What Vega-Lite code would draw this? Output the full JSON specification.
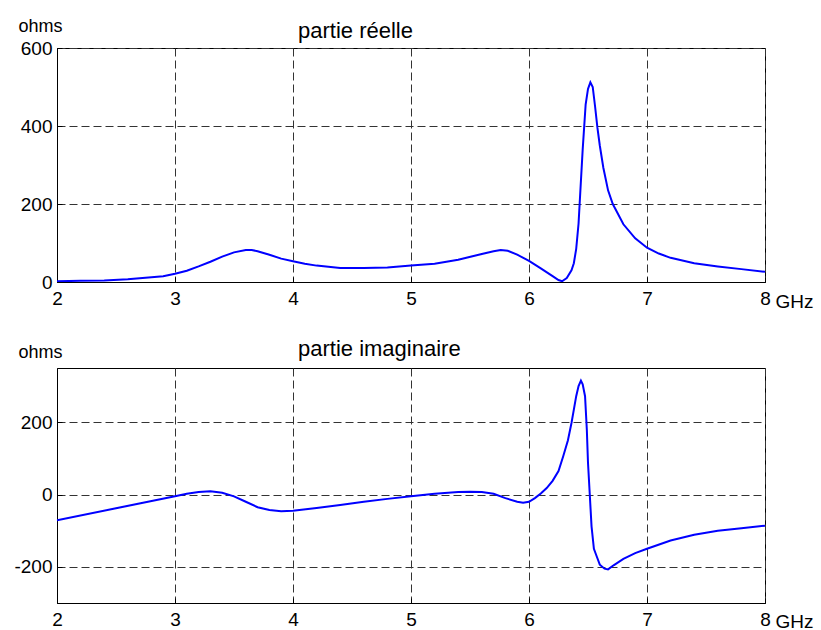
{
  "$schema": "https://vega.github.io/schema/vega-lite/v6.json",
  "background": "white",
  "padding": {"left": 13, "top": 16, "right": 0, "bottom": 0},
  "config": {
    "font": "Liberation Sans",
    "view": {"stroke": "black", "strokeWidth": 1},
    "concat": {"spacing": 86},
    "axis": {
      "grid": true,
      "gridDash": [8, 4],
      "gridColor": "#333333",
      "gridOpacity": 1,
      "gridWidth": 1,
      "domainColor": "black",
      "domainWidth": 1,
      "labelFontSize": 19,
      "labelColor": "black",
      "labelFont": "Liberation Sans",
      "ticks": true,
      "tickSize": -5,
      "tickColor": "black",
      "titleFont": "Liberation Sans",
      "titleFontSize": 18,
      "titleFontWeight": "normal",
      "titleColor": "black"
    },
    "title": {"font": "Liberation Sans", "fontSize": 22, "fontWeight": "normal", "color": "black", "anchor": "start", "frame": "group"}
  },
  "datasets": {
    "re": [
      {"f": 2.0, "v": 2}, {"f": 2.2, "v": 3}, {"f": 2.4, "v": 4}, {"f": 2.6, "v": 7}, {"f": 2.8, "v": 12},
      {"f": 2.9, "v": 15}, {"f": 3.0, "v": 21}, {"f": 3.1, "v": 29}, {"f": 3.2, "v": 40}, {"f": 3.3, "v": 52},
      {"f": 3.4, "v": 65}, {"f": 3.5, "v": 76}, {"f": 3.6, "v": 82}, {"f": 3.65, "v": 82}, {"f": 3.7, "v": 79},
      {"f": 3.8, "v": 70}, {"f": 3.9, "v": 60}, {"f": 4.0, "v": 53}, {"f": 4.1, "v": 47}, {"f": 4.2, "v": 42},
      {"f": 4.3, "v": 39}, {"f": 4.4, "v": 36}, {"f": 4.6, "v": 36}, {"f": 4.8, "v": 37}, {"f": 5.0, "v": 42},
      {"f": 5.2, "v": 47}, {"f": 5.4, "v": 57}, {"f": 5.6, "v": 72}, {"f": 5.7, "v": 79}, {"f": 5.76, "v": 82},
      {"f": 5.82, "v": 80}, {"f": 5.9, "v": 70}, {"f": 6.0, "v": 54}, {"f": 6.1, "v": 35}, {"f": 6.2, "v": 15},
      {"f": 6.25, "v": 5}, {"f": 6.28, "v": 2}, {"f": 6.32, "v": 10}, {"f": 6.36, "v": 30}, {"f": 6.38, "v": 48},
      {"f": 6.4, "v": 85}, {"f": 6.42, "v": 150}, {"f": 6.43, "v": 205}, {"f": 6.455, "v": 340}, {"f": 6.48, "v": 455},
      {"f": 6.5, "v": 495}, {"f": 6.52, "v": 512}, {"f": 6.54, "v": 500}, {"f": 6.56, "v": 450}, {"f": 6.58, "v": 395},
      {"f": 6.6, "v": 350}, {"f": 6.63, "v": 293}, {"f": 6.67, "v": 235}, {"f": 6.71, "v": 200}, {"f": 6.8, "v": 148},
      {"f": 6.9, "v": 112}, {"f": 7.0, "v": 88}, {"f": 7.1, "v": 73}, {"f": 7.2, "v": 62}, {"f": 7.4, "v": 48},
      {"f": 7.6, "v": 40}, {"f": 7.8, "v": 33}, {"f": 8.0, "v": 26}
    ],
    "im": [
      {"f": 2.0, "v": -71}, {"f": 2.5, "v": -38}, {"f": 3.0, "v": -5}, {"f": 3.1, "v": 2}, {"f": 3.2, "v": 7},
      {"f": 3.3, "v": 9}, {"f": 3.4, "v": 5}, {"f": 3.5, "v": -5}, {"f": 3.6, "v": -20}, {"f": 3.7, "v": -35},
      {"f": 3.8, "v": -43}, {"f": 3.9, "v": -46}, {"f": 4.0, "v": -45}, {"f": 4.2, "v": -37}, {"f": 4.4, "v": -29},
      {"f": 4.6, "v": -20}, {"f": 4.8, "v": -12}, {"f": 5.0, "v": -5}, {"f": 5.2, "v": 2}, {"f": 5.4, "v": 7},
      {"f": 5.5, "v": 8}, {"f": 5.6, "v": 7}, {"f": 5.7, "v": 2}, {"f": 5.8, "v": -10}, {"f": 5.9, "v": -20},
      {"f": 5.95, "v": -23}, {"f": 6.0, "v": -20}, {"f": 6.05, "v": -10}, {"f": 6.1, "v": 3}, {"f": 6.15, "v": 18},
      {"f": 6.2, "v": 38}, {"f": 6.25, "v": 65}, {"f": 6.29, "v": 106}, {"f": 6.33, "v": 150}, {"f": 6.36, "v": 198},
      {"f": 6.38, "v": 235}, {"f": 6.4, "v": 272}, {"f": 6.42, "v": 300}, {"f": 6.44, "v": 315}, {"f": 6.455, "v": 305},
      {"f": 6.475, "v": 272}, {"f": 6.49, "v": 180}, {"f": 6.5, "v": 88}, {"f": 6.515, "v": 0}, {"f": 6.53, "v": -88},
      {"f": 6.55, "v": -150}, {"f": 6.575, "v": -172}, {"f": 6.6, "v": -194}, {"f": 6.64, "v": -205}, {"f": 6.67, "v": -207},
      {"f": 6.72, "v": -195}, {"f": 6.8, "v": -178}, {"f": 6.9, "v": -162}, {"f": 7.0, "v": -150}, {"f": 7.2, "v": -127},
      {"f": 7.4, "v": -111}, {"f": 7.6, "v": -100}, {"f": 7.8, "v": -93}, {"f": 8.0, "v": -86}
    ]
  },
  "bounds": "flush",
  "vconcat": [
    {
      "width": 708,
      "height": 234,
      "title": {"text": "partie réelle", "dx": 241, "offset": -26},
      "data": {"name": "re"},
      "mark": {"type": "line", "color": "#0000ff", "strokeWidth": 2, "clip": true},
      "encoding": {
        "x": {"field": "f", "type": "quantitative", "scale": {"domain": [2, 8], "nice": false, "zero": false},
          "axis": {"values": [2, 3, 4, 5, 6, 7, 8], "labelPadding": 12, "title": "GHz", "titleAlign": "left", "titleBaseline": "alphabetic", "titleAnchor": null, "titleX": 718, "titleY": 25, "titleFontSize": 19, "labelFlush": false}},
        "y": {"field": "v", "type": "quantitative", "scale": {"domain": [0, 600], "nice": false},
          "axis": {"values": [0, 200, 400, 600], "labelPadding": 10, "labelExpr": "toString(datum.value)", "title": "ohms", "titleAngle": 0, "titleAlign": "left", "titleBaseline": "alphabetic", "titleX": -39, "titleY": -17, "labelFlush": false}}
      }
    },
    {
      "width": 708,
      "height": 235,
      "title": {"text": "partie imaginaire", "dx": 241, "offset": -18},
      "data": {"name": "im"},
      "mark": {"type": "line", "color": "#0000ff", "strokeWidth": 2, "clip": true},
      "encoding": {
        "x": {"field": "f", "type": "quantitative", "scale": {"domain": [2, 8], "nice": false, "zero": false},
          "axis": {"values": [2, 3, 4, 5, 6, 7, 8], "labelPadding": 12, "title": "GHz", "titleAlign": "left", "titleBaseline": "alphabetic", "titleAnchor": null, "titleX": 718, "titleY": 24, "titleFontSize": 19, "labelFlush": false}},
        "y": {"field": "v", "type": "quantitative", "scale": {"domain": [-300, 350], "nice": false, "zero": false},
          "axis": {"values": [-200, 0, 200], "labelPadding": 10, "labelExpr": "toString(datum.value)", "title": "ohms", "titleAngle": 0, "titleAlign": "left", "titleBaseline": "alphabetic", "titleX": -39, "titleY": -11, "labelFlush": false}}
      }
    }
  ]
}
